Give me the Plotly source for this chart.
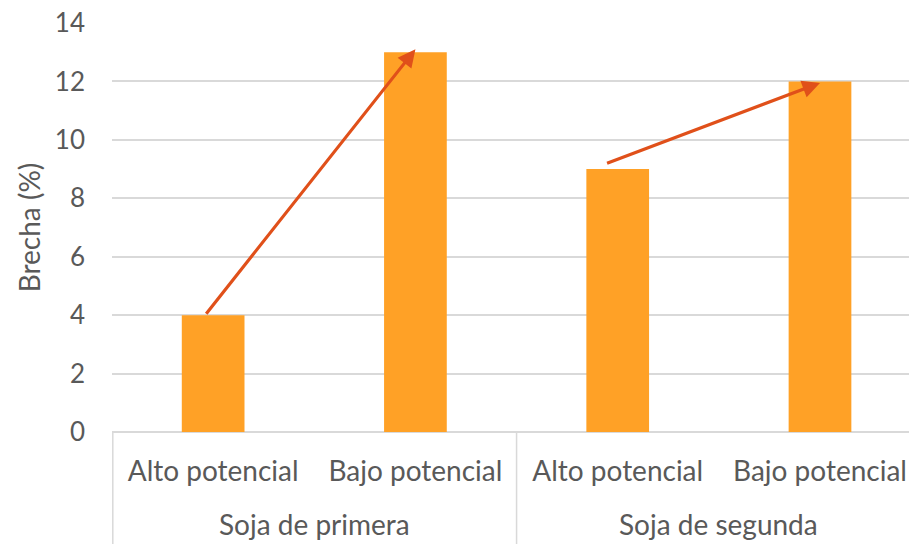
import plotly.graph_objects as go

groups = ["Soja de primera", "Soja de primera", "Soja de segunda", "Soja de segunda"]
levels = ["Alto potencial", "Bajo potencial", "Alto potencial", "Bajo potencial"]
brecha = [4, 13, 9, 12]
y_ticks = [0, 2, 4, 6, 8, 10, 12, 14]

BAR = "#FFA126"
ARROW = "#E0501A"
TXT = "#595959"
GRID = "#D9D9D9"
FONT = "Lato"

xs = list(range(len(brecha)))

fig = go.Figure()
fig.add_trace(go.Bar(x=xs, y=brecha, marker=dict(color=BAR, line=dict(width=0)),
                     hoverinfo="skip"))

# arrows between bars within each group
arrow_pairs = [(0, 1, -0.04, 0.0, 0.1), (2, 3, -0.06, 0.18, -0.05)]
for i, j, dx0, dy0, dy1 in arrow_pairs:
    fig.add_annotation(x=xs[j], y=brecha[j] + dy1, ax=xs[i] + dx0, ay=brecha[i] + dy0,
                       xref="x", yref="y", axref="x", ayref="y",
                       showarrow=True, arrowhead=2, arrowsize=1.1, arrowwidth=3.2,
                       arrowcolor=ARROW, text="", standoff=0, startstandoff=0)

# group labels and dividers
unique_groups = []
for g in groups:
    if g not in unique_groups:
        unique_groups.append(g)
for g in unique_groups:
    idx = [k for k, gg in enumerate(groups) if gg == g]
    first, last = idx[0], idx[-1]
    center = (first + last) / 2
    fig.add_annotation(x=center, y=-0.226, xref="x", yref="paper", text=g, showarrow=False,
                       font=dict(size=28, color=TXT, family=FONT), yanchor="middle")
    if first > 0:
        fig.add_shape(type="line", xref="x", yref="paper", x0=first - 0.5, x1=first - 0.5,
                      y0=0, y1=-0.3, line=dict(color=GRID, width=1.5))
fig.add_shape(type="line", xref="paper", yref="paper", x0=0.001, x1=0.001, y0=0, y1=-0.3,
              line=dict(color=GRID, width=1.5))

fig.update_layout(
    width=909, height=544,
    margin=dict(l=112, r=0, t=23, b=112),
    paper_bgcolor="white", plot_bgcolor="white",
    font=dict(family=FONT, size=28, color=TXT),
    showlegend=False,
    bargap=0.69,
    xaxis=dict(range=[-0.5, 3.44], tickvals=xs, ticktext=levels,
               showgrid=False, showline=False, zeroline=False, ticks="",
               ticklabelstandoff=20,
               tickfont=dict(size=28, color=TXT, family=FONT)),
    yaxis=dict(range=[0, 14], tickvals=y_ticks, showgrid=True, gridcolor=GRID, gridwidth=1.5,
               zeroline=True, zerolinecolor=GRID, zerolinewidth=1.5,
               showline=False, ticklabelstandoff=26,
               tickfont=dict(size=26, color=TXT, family=FONT),
               title=dict(text="Brecha (%)", font=dict(size=28, color=TXT, family=FONT), standoff=6)),
)

fig.write_html("out.html")
